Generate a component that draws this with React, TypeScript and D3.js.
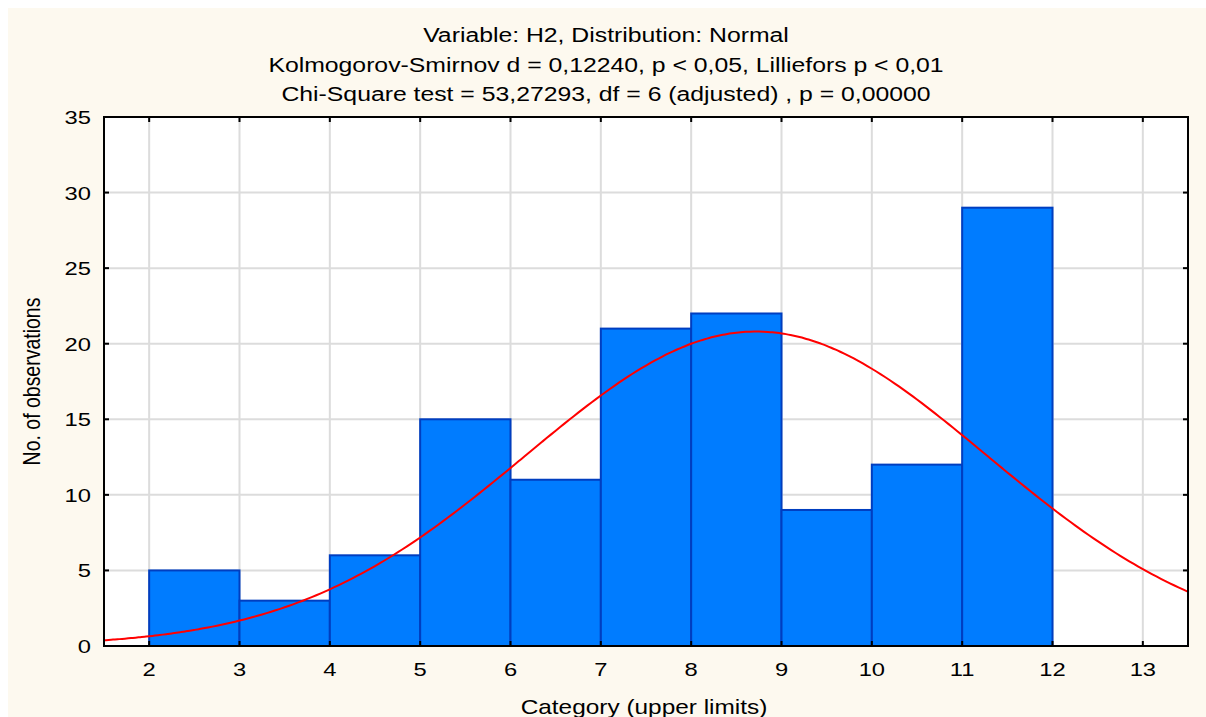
import * as d3 from "d3";
import React, { useEffect, useRef } from "react";

// histogram: category upper limits and counts
const upperLimits = [3, 4, 5, 6, 7, 8, 9, 10, 11, 12];
const counts = [5, 3, 6, 15, 11, 21, 22, 9, 12, 29];
const xTicks = [2, 3, 4, 5, 6, 7, 8, 9, 10, 11, 12, 13];
const yTicks = [0, 5, 10, 15, 20, 25, 30, 35];

// fitted normal
const fitMean = 8.72;
const fitSd = 2.55;
const binWidth = 1;

const titleLines = [
  "Variable: H2, Distribution: Normal",
  "Kolmogorov-Smirnov d = 0,12240, p < 0,05, Lilliefors p < 0,01",
  "Chi-Square test = 53,27293, df = 6 (adjusted) , p = 0,00000",
];
const xLabel = "Category (upper limits)";
const yLabel = "No. of observations";

var width = 1206;
var height = 717;
var plot = { left: 104, top: 117, right: 1188, bottom: 646 };
var font = "'Liberation Sans', Arial, sans-serif";

// the original text is stretched sideways, so every label gets a scaleX
function place(x, y, sx) {
  return "translate(" + x + "," + y + ") scale(" + sx + ",1)";
}

export default function App() {
  const svgRef = useRef(null);

  useEffect(() => {
    const svg = d3.select(svgRef.current);
    svg.selectAll("*").remove();

    const xScale = d3.scaleLinear().domain([1.5, 13.5]).range([plot.left, plot.right]);
    const yScale = d3.scaleLinear().domain([0, 35]).range([plot.bottom, plot.top]);

    svg.append("rect")
      .attr("x", 8).attr("y", 8)
      .attr("width", width - 8).attr("height", height - 8)
      .attr("fill", "#fdf9ef");

    svg.append("defs").append("clipPath").attr("id", "plotclip")
      .append("rect")
      .attr("x", plot.left).attr("y", plot.top)
      .attr("width", plot.right - plot.left).attr("height", plot.bottom - plot.top);

    svg.append("rect")
      .attr("x", plot.left).attr("y", plot.top)
      .attr("width", plot.right - plot.left).attr("height", plot.bottom - plot.top)
      .attr("fill", "#ffffff");

    // grid
    const grid = svg.append("g").attr("stroke", "#dcdcdc").attr("stroke-width", 2);
    grid.selectAll(".vx").data(xTicks).enter().append("line")
      .attr("x1", (d) => xScale(d)).attr("x2", (d) => xScale(d))
      .attr("y1", plot.top).attr("y2", plot.bottom);
    grid.selectAll(".hy").data(yTicks.slice(1, -1)).enter().append("line")
      .attr("y1", (d) => yScale(d)).attr("y2", (d) => yScale(d))
      .attr("x1", plot.left).attr("x2", plot.right);

    // bars
    svg.append("g").selectAll("rect")
      .data(counts).enter()
      .append("rect")
      .attr("x", (d, i) => xScale(upperLimits[i] - binWidth))
      .attr("y", (d) => yScale(d))
      .attr("width", (d, i) => xScale(upperLimits[i]) - xScale(upperLimits[i] - binWidth))
      .attr("height", (d) => plot.bottom - yScale(d))
      .attr("fill", "#007cff")
      .attr("stroke", "#003ec0")
      .attr("stroke-width", 2);

    // normal curve
    const total = d3.sum(counts);
    const expected = (x) =>
      total * binWidth * Math.exp(-0.5 * ((x - fitMean) / fitSd) ** 2) / (fitSd * Math.sqrt(2 * Math.PI));
    const curveX = d3.range(1.5, 13.55, 0.05);
    const line = d3.line()
      .x((d) => xScale(d))
      .y((d) => yScale(expected(d)))
      .curve(d3.curveMonotoneX);
    svg.append("path")
      .datum(curveX)
      .attr("d", line)
      .attr("clip-path", "url(#plotclip)")
      .attr("fill", "none")
      .attr("stroke", "#ff0000")
      .attr("stroke-width", 2);

    // frame and inside ticks
    svg.append("rect")
      .attr("x", plot.left).attr("y", plot.top)
      .attr("width", plot.right - plot.left).attr("height", plot.bottom - plot.top)
      .attr("fill", "none").attr("stroke", "#000").attr("stroke-width", 2);

    const ticks = svg.append("g").attr("stroke", "#000").attr("stroke-width", 2);
    xTicks.forEach((t) => {
      ticks.append("line").attr("x1", xScale(t)).attr("x2", xScale(t)).attr("y1", plot.bottom).attr("y2", plot.bottom - 5);
      ticks.append("line").attr("x1", xScale(t)).attr("x2", xScale(t)).attr("y1", plot.top).attr("y2", plot.top + 5);
    });
    yTicks.forEach((t) => {
      ticks.append("line").attr("y1", yScale(t)).attr("y2", yScale(t)).attr("x1", plot.left).attr("x2", plot.left + 5);
      ticks.append("line").attr("y1", yScale(t)).attr("y2", yScale(t)).attr("x1", plot.right).attr("x2", plot.right - 5);
    });

    const text = svg.append("g")
      .attr("font-family", font)
      .attr("fill", "#000");

    text.selectAll(".xt").data(xTicks).enter().append("text")
      .attr("transform", (d) => place(xScale(d), 676, 1.25))
      .attr("font-size", 19)
      .attr("text-anchor", "middle")
      .text((d) => d);

    text.selectAll(".yt").data(yTicks).enter().append("text")
      .attr("transform", (d) => place(91, yScale(d) + 7, 1.25))
      .attr("font-size", 19)
      .attr("text-anchor", "end")
      .text((d) => d);

    text.selectAll(".title").data(titleLines).enter().append("text")
      .attr("transform", (d, i) => place(606, 42 + i * 29.5, 1.18))
      .attr("font-size", 21)
      .attr("text-anchor", "middle")
      .text((d) => d);

    text.append("text")
      .attr("transform", place(644, 714, 1.22))
      .attr("font-size", 20)
      .attr("text-anchor", "middle")
      .text(xLabel);

    text.append("text")
      .attr("transform", place(40, (plot.top + plot.bottom) / 2, 1.2) + " rotate(-90)")
      .attr("font-size", 19.5)
      .attr("text-anchor", "middle")
      .text(yLabel);
  }, []);

  return (
    <svg
      ref={svgRef}
      width={width}
      height={height}
      style={{ position: "absolute", left: 0, top: 0 }}
    />
  );
}
